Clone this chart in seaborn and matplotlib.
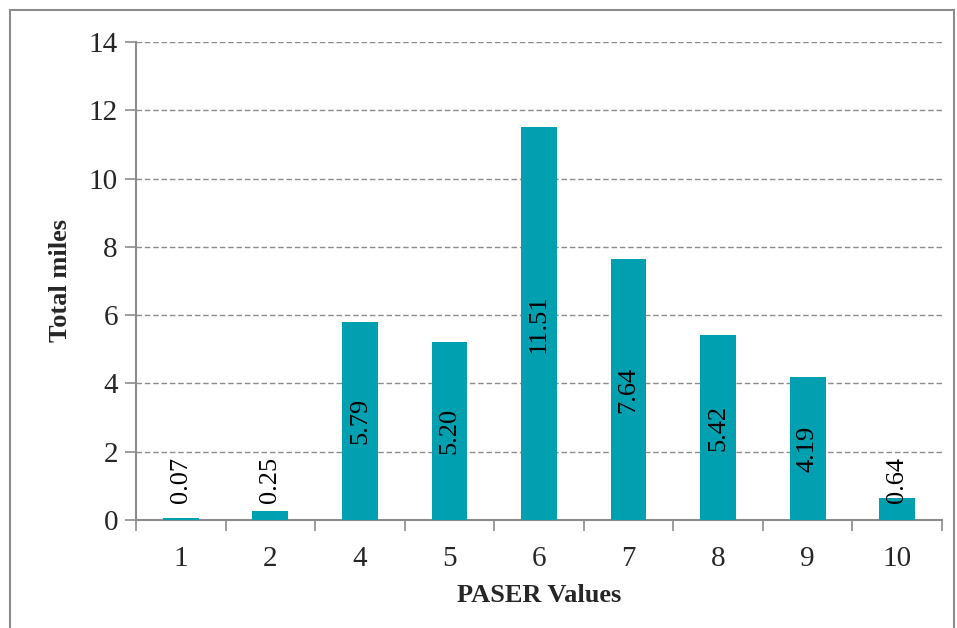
import matplotlib
matplotlib.use('Agg')
import matplotlib.pyplot as plt
import matplotlib.patches as mpatches
from matplotlib.ticker import FixedLocator
import seaborn as sns
import pandas as pd

# ========== 数据 ==========
paser_values = ['1', '2', '4', '5', '6', '7', '8', '9', '10']
total_miles = [0.07, 0.25, 5.79, 5.20, 11.51, 7.64, 5.42, 4.19, 0.64]

BAR_COLOR = '#00A0B0'
GRAY = '#8C8C8C'

sns.set_theme(style='white')
plt.rcParams['font.family'] = ['Liberation Serif', 'DejaVu Serif']

df = pd.DataFrame({'paser': paser_values, 'miles': total_miles})

fig = plt.figure(figsize=(9.57, 6.28), dpi=100)
ax = fig.add_axes([136 / 957, 1 - 520 / 628, (942 - 136) / 957, (520 - 42) / 628])

sns.barplot(data=df, x='paser', y='miles', color=BAR_COLOR, width=0.4,
            saturation=1, linewidth=0, ax=ax, zorder=3)

ax.set_ylim(0, 14)
ax.set_xlim(-0.5, len(paser_values) - 0.5)
ax.set_yticks(range(0, 15, 2))
ax.yaxis.grid(True, linestyle=(0, (4, 2)), color=GRAY, linewidth=1.0, zorder=0)
ax.xaxis.grid(False)

# 数据标签：柱内居中，小值放在柱底附近上方
for i, v in enumerate(total_miles):
    if v < 1.5:
        ax.text(i, 0.5, f'{v:.2f}', rotation=90, ha='center', va='bottom',
                fontsize=19, color='black', zorder=4)
    else:
        ax.text(i, v / 2, f'{v:.2f}', rotation=90, ha='center', va='center',
                fontsize=19, color='black', zorder=4)

# 坐标轴样式
for side in ['top', 'right']:
    ax.spines[side].set_visible(False)
for side in ['left', 'bottom']:
    ax.spines[side].set_color(GRAY)
    ax.spines[side].set_linewidth(1.5)

ax.tick_params(axis='y', which='major', length=8, width=1.2, color=GRAY,
               labelsize=21, pad=5, left=True)
ax.tick_params(axis='x', which='major', length=0, labelsize=21, pad=19)
ax.xaxis.set_minor_locator(FixedLocator([i - 0.5 for i in range(len(paser_values) + 1)]))
ax.tick_params(axis='x', which='minor', length=8, width=1.2, color=GRAY, bottom=True)

ax.set_xlabel('PASER Values', fontsize=19, fontweight='bold', labelpad=8)
ax.set_ylabel('Total miles', fontsize=19, fontweight='bold', labelpad=12)

# 外框
fig.add_artist(mpatches.Rectangle((10 / 957, -0.1), (954 - 10) / 957, 1.1 - 10 / 628,
                                  transform=fig.transFigure, fill=False,
                                  edgecolor=GRAY, linewidth=1.5))

fig.savefig('out.png', dpi=100)
